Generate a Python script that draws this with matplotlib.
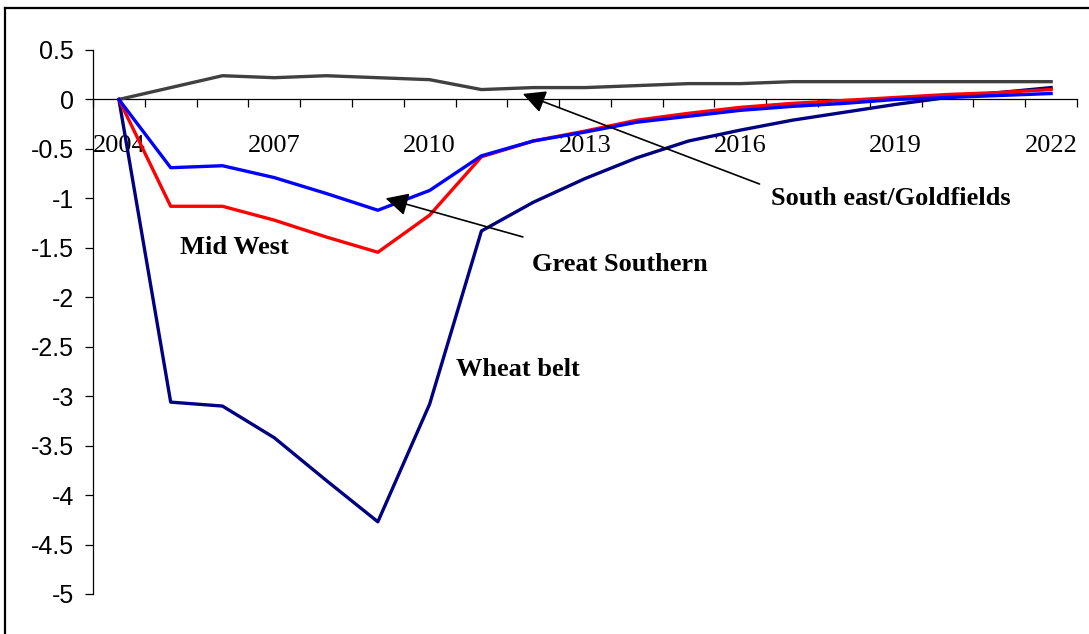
import matplotlib
matplotlib.use("Agg")
import matplotlib.pyplot as plt
import numpy as np
from matplotlib.lines import Line2D
from matplotlib.ticker import FixedLocator, FixedFormatter

plt.rcParams['axes.unicode_minus'] = False

years = list(range(2004, 2023))
label_years = years[::3]
yticks = [0.5, 0, -0.5, -1, -1.5, -2, -2.5, -3, -3.5, -4, -4.5, -5]

south_east = [0, 0.12, 0.24, 0.22, 0.24, 0.22, 0.20, 0.10, 0.12, 0.12, 0.14, 0.16,
              0.16, 0.18, 0.18, 0.18, 0.18, 0.18, 0.18]
mid_west = [0, -1.08, -1.08, -1.22, -1.39, -1.545, -1.17, -0.58, -0.42, -0.32, -0.21,
            -0.14, -0.08, -0.04, -0.01, 0.02, 0.05, 0.07, 0.10]
great_southern = [0, -0.69, -0.67, -0.79, -0.95, -1.12, -0.92, -0.57, -0.42, -0.33,
                  -0.23, -0.17, -0.11, -0.07, -0.04, 0.0, 0.02, 0.04, 0.06]
wheat_belt = [0, -3.06, -3.10, -3.42, -3.85, -4.27, -3.08, -1.33, -1.04, -0.80, -0.59,
              -0.42, -0.31, -0.21, -0.13, -0.05, 0.02, 0.07, 0.12]

W, H = 1089, 634
fig = plt.figure(figsize=(W / 100, H / 100), dpi=100)
ax = fig.add_axes([93 / W, 1 - 594 / H, (1077 - 93) / W, (594 - 50) / H])

lw = 2.4
ax.plot(years, wheat_belt, color='#000080', lw=lw, zorder=3)
ax.plot(years, mid_west, color='#FF0000', lw=lw, zorder=4)
ax.plot(years, great_southern, color='#0000FF', lw=lw, zorder=5)
ax.plot(years, south_east, color='#404040', lw=lw, zorder=3)

ax.set_xlim(years[0] - 0.5, years[-1] + 0.5)
ax.set_ylim(-5, 0.5)

for s in ['top', 'right']:
    ax.spines[s].set_visible(False)
ax.spines['bottom'].set_position(('data', 0))
ax.spines['bottom'].set_linewidth(0.9)
ax.spines['left'].set_linewidth(0.9)

# y axis
ax.set_yticks(yticks)
ax.set_yticklabels(['%g' % v for v in yticks], fontfamily='Liberation Sans', fontsize=18)
ax.tick_params(axis='y', direction='out', length=5.8, width=0.9, pad=8)

# x axis: ticks at category boundaries, labels at category centres
bounds = [y - 0.5 for y in years] + [years[-1] + 0.5]
ax.xaxis.set_major_locator(FixedLocator(bounds))
ax.xaxis.set_major_formatter(FixedFormatter([''] * len(bounds)))
ax.xaxis.set_minor_locator(FixedLocator(label_years))
ax.xaxis.set_minor_formatter(FixedFormatter([str(y) for y in label_years]))
ax.tick_params(axis='x', which='major', direction='out', length=5.8, width=0.9)
ax.tick_params(axis='x', which='minor', length=0, pad=25.5)
for t in ax.xaxis.get_minorticklabels():
    t.set_fontfamily('Liberation Serif')
    t.set_fontsize(19)

tfont = dict(fontfamily='Liberation Serif', fontweight='bold', fontsize=19, va='center', ha='left')
ax.text(2005.18, -1.50, 'Mid West', **tfont)
ax.text(2010.5, -2.73, 'Wheat belt', **tfont)
ax.text(2011.97, -1.67, 'Great Southern', **tfont)
ax.text(2016.6, -1.0, 'South east/Goldfields', **tfont)

aprops = dict(arrowstyle='-|>,head_length=0.55,head_width=0.28', color='black', lw=1.2,
              mutation_scale=25, shrinkA=0, shrinkB=0)
ax.annotate('', xy=(2009.15, -1.0), xytext=(2011.8, -1.39), arrowprops=aprops, zorder=6)
ax.annotate('', xy=(2011.8, 0.056), xytext=(2016.37, -0.855), arrowprops=aprops, zorder=6)

# outer frame (left and top edges visible)
fig.add_artist(Line2D([5 / W, 5 / W], [0, 1 - 8 / H], transform=fig.transFigure, color='black', lw=1.6))
fig.add_artist(Line2D([5 / W, 1], [1 - 8 / H, 1 - 8 / H], transform=fig.transFigure, color='black', lw=1.6))

fig.savefig('out.png', dpi=100)
